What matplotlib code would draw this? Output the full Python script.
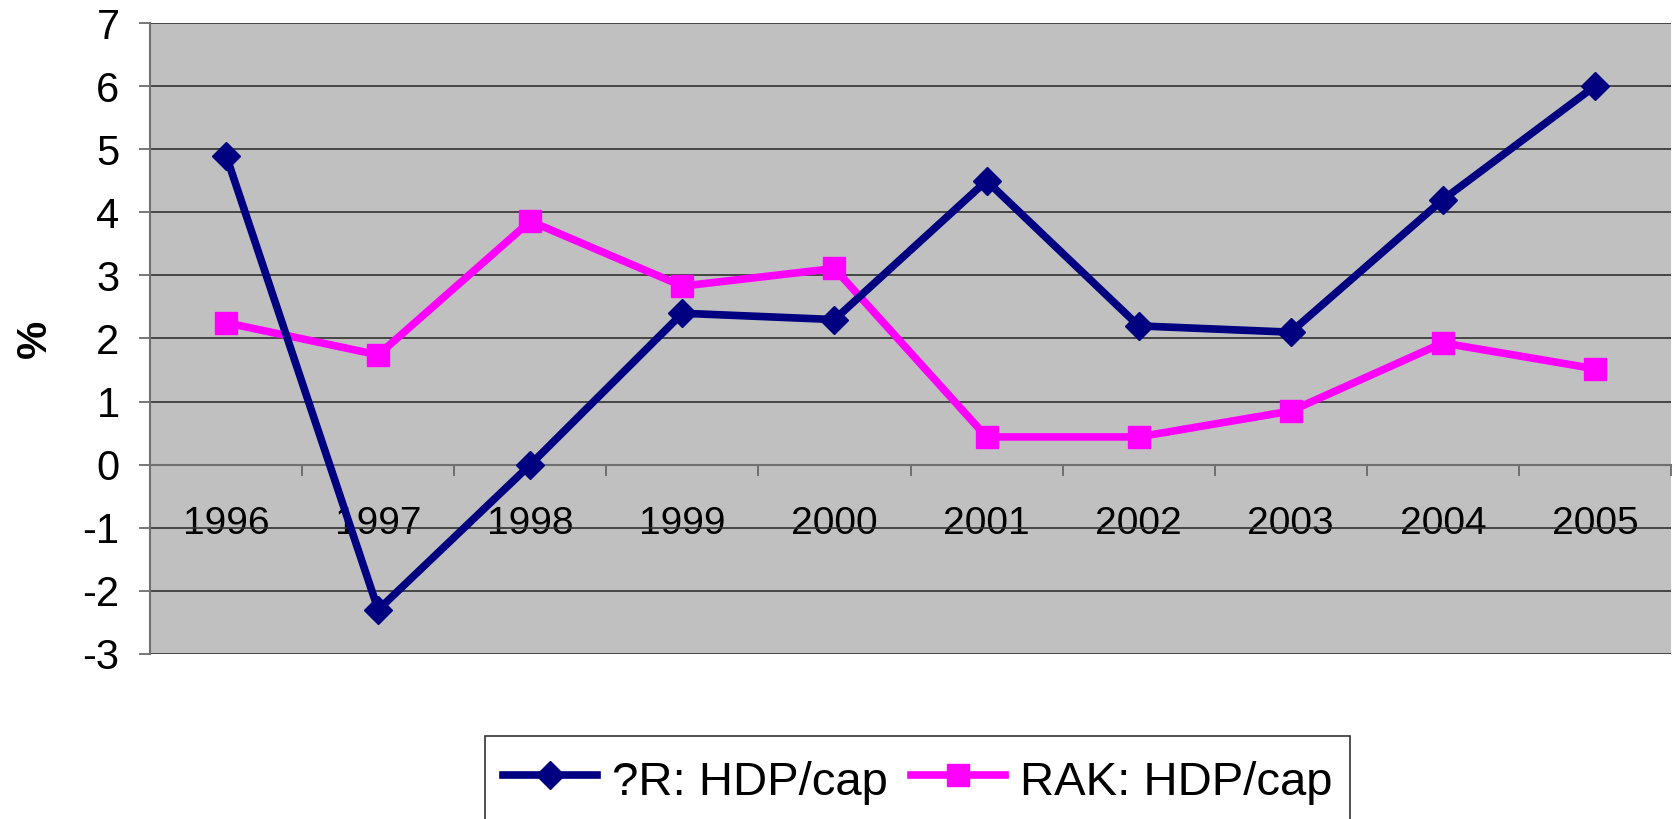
import numpy as np
from matplotlib import pyplot as plt
from matplotlib.ticker import FixedLocator, NullFormatter

years = ['1996', '1997', '1998', '1999', '2000', '2001', '2002', '2003', '2004', '2005']
cr_hdp = [4.9, -2.3, 0.0, 2.4, 2.3, 4.5, 2.2, 2.1, 4.2, 6.0]
rak_hdp = [2.25, 1.74, 3.86, 2.83, 3.11, 0.44, 0.44, 0.85, 1.93, 1.52]
series_labels = ['?R: HDP/cap', 'RAK: HDP/cap']

plt.rcParams['font.family'] = ['Liberation Sans', 'DejaVu Sans']
plt.rcParams['axes.unicode_minus'] = False

fig = plt.figure(figsize=(16.75, 8.19), dpi=100)
ax = fig.add_axes([0.0896, 0.2015, 0.908, 0.7704])
ax.set_facecolor('#C0C0C0')

x = np.arange(len(years))
ax.plot(x, cr_hdp, color='#000080', lw=5.5, marker='D', ms=14, label=series_labels[0], zorder=4)
ax.plot(x, rak_hdp, color='#FF00FF', lw=5.5, marker='s', ms=16, label=series_labels[1], zorder=3)

ax.set_xlim(-0.5, len(years) - 0.5)
ax.set_ylim(-3, 7)
ax.set_yticks(range(-3, 8))
ax.yaxis.grid(True, color='#303030', lw=1.2)
ax.set_axisbelow(True)
ax.tick_params(axis='y', labelsize=30, length=8, width=1.2, color='#606060', pad=14)

# category axis crosses at zero, ticks between categories
ax.spines['bottom'].set_position(('data', 0))
ax.spines['bottom'].set_color('#707070')
ax.spines['bottom'].set_linewidth(1.5)
ax.spines['left'].set_color('#707070')
ax.spines['left'].set_linewidth(1.5)
ax.spines['top'].set_visible(False)
ax.spines['right'].set_visible(False)
ax.set_xticks(x, years)
ax.xaxis.set_minor_locator(FixedLocator(np.arange(-0.5, len(years), 1.0)))
ax.xaxis.set_minor_formatter(NullFormatter())
ax.tick_params(axis='x', which='major', length=0, labelsize=28, pad=30)
ax.tick_params(axis='x', which='minor', length=8, width=1.2, color='#606060', direction='out')

ax.set_ylabel('%', fontsize=31, fontweight='bold', labelpad=20)

leg = ax.legend(loc='upper left', bbox_to_anchor=(0.2202, -0.13), ncol=2, fontsize=34,
                frameon=True, fancybox=False, edgecolor='black', handlelength=2.0,
                handleheight=1.3, handletextpad=0.3, columnspacing=0.5, borderpad=0.38,
                borderaxespad=0)
leg.get_frame().set_linewidth(1.2)

fig.savefig('out.png', dpi=100, facecolor='white')
